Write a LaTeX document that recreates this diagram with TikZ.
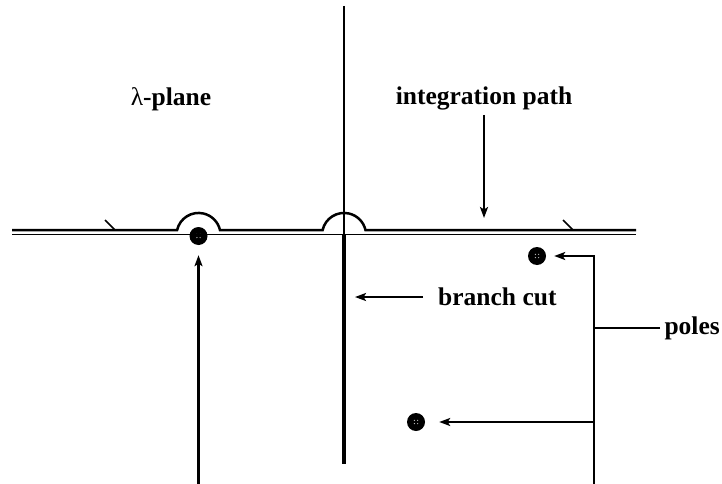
\documentclass[tikz,border=0pt]{standalone}
\usepackage{fontspec}
\setmainfont{Liberation Serif}
\usetikzlibrary{arrows.meta,calc}
\begin{document}
\begin{tikzpicture}[x=1pt,y=-1pt,
  lbl/.style={font=\fontsize{25.5}{30}\selectfont\bfseries, inner sep=0pt},
  pole/.style={circle, fill=black, minimum size=18pt, inner sep=0pt},
  thinax/.style={line width=1.2pt},
  pathline/.style={line width=2.5pt},
  cutline/.style={line width=3.3pt},
  ptr/.style={line width=2.2pt, -{Stealth[length=11pt,width=8pt,inset=2.5pt]}},
  plainline/.style={line width=2.2pt}]
\useasboundingbox (0,0) rectangle (722,484);
% poles
\node[pole] (p1) at (198.5,236) {};
\node[pole] (p2) at (537,256) {};
\node[pole] (p3) at (416,422) {};
\foreach \p in {p1,p2,p3}{
  \foreach \dx/\dy in {-1.6/-1.6,1.6/-1.6,-1.6/1.6,1.6/1.6}
    \fill[gray!60] ($(\p)+(\dx,\dy)$) circle (0.7);
}
% axes
\coordinate (axl) at (12,234.5);
\coordinate (axr) at (636,234.5);
\coordinate (axtop) at (344,6);
\coordinate (axo) at (344,234.5);
\coordinate (cutend) at (344,464);
\draw[thinax] (axl) -- (axr);
\draw[thinax] (axtop) -- (axo);
\draw[cutline] (axo) -- (cutend);
% integration path
\draw[pathline] (12,230) -- (177.1,230) arc[start angle=193,end angle=347,radius=22]
  -- (322.6,230) arc[start angle=193,end angle=347,radius=22] -- (636,230);
\draw[line width=1.7pt] (105,220) -- (115,230);
\draw[line width=1.7pt] (563,220) -- (573,230);
% labels
\node[lbl] (lam) at (171,99) {{\mdseries λ}-plane};
\node[lbl] (ip) at (484,98) {integration path};
\node[lbl, anchor=west] (bc) at (438,297) {branch cut};
\node[lbl, anchor=east] (pl) at (720,328) {poles};
% connectors
\coordinate (iptop) at (484,115);
\coordinate (iptip) at (484,218);
\draw[ptr] (iptop) -- (iptip);
\coordinate (bctail) at (423,297);
\coordinate (bctip) at (355,297);
\draw[ptr] (bctail) -- (bctip);
\coordinate (plj) at (594,328);
\coordinate (plend) at (660,328);
\draw[plainline] (plend) -- (plj);
\coordinate (vtop) at (594,256);
\coordinate (vbot) at (594,484);
\draw[ptr] (vbot) -- (vtop) -- ($(p2.east)+(8,0)$);
\coordinate (v3) at (594,422);
\draw[ptr] (v3) -- ($(p3.east)+(14,0)$);
\coordinate (lbot) at (198.5,484);
\draw[ptr] (lbot) -- ($(p1.south)+(0,10)$);
\end{tikzpicture}
\end{document}
